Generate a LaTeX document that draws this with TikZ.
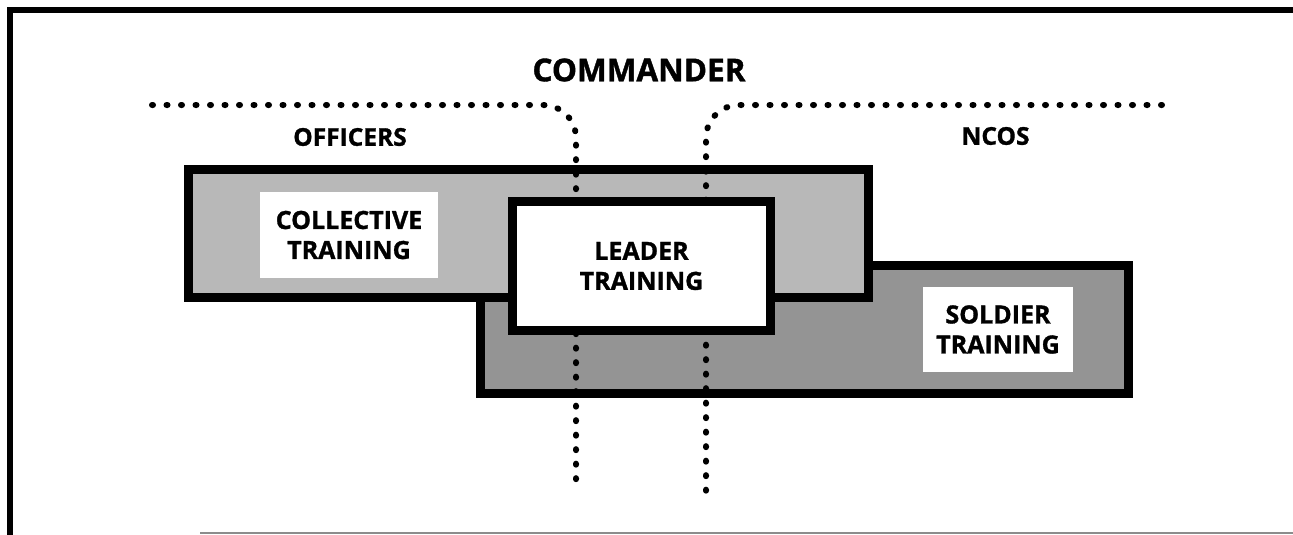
\documentclass[tikz,border=0pt]{standalone}
\usepackage{fontspec}
\setmainfont{Open Sans}[BoldFeatures={FakeBold=1.2}]
\begin{document}
\begin{tikzpicture}[x=1pt,y=-1pt,
  frameline/.style={line width=6pt},
  trainbox/.style={draw, line width=9pt, rectangle, inner sep=0pt, outer sep=0pt},
  labelbox/.style={fill=white, rectangle, inner sep=0pt, outer sep=0pt},
  lbl/.style={font=\bfseries\fontsize{25}{30}\selectfont, align=center, inner sep=0pt},
  grp/.style={font=\bfseries\fontsize{24.5}{29}\selectfont, inner sep=0pt},
  divider/.style={line width=6pt, line cap=round, dash pattern=on 1pt off 13.5pt, rounded corners=33pt}
]
\useasboundingbox (0,0) rectangle (1293,535);
% frame
\draw[frameline] (10,535) -- (10,10) -- (1293,10);
\draw[black!45, line width=1.5pt] (200,533) -- (1293,533);
% boxes
\node[trainbox, fill=black!42, minimum width=648pt, minimum height=128pt] (soldier) at (804.5,329.5) {};
\node[trainbox, fill=black!28, minimum width=680pt, minimum height=128pt] (collective) at (528.5,233.5) {};
\node[labelbox, minimum width=178pt, minimum height=86pt] (collab) at (349,235) {};
\node[lbl] (coltxt) at (collab) {COLLECTIVE\\TRAINING};
\node[labelbox, minimum width=150pt, minimum height=85pt] (solab) at (998,329.5) {};
\node[lbl] (soltxt) at (solab) {SOLDIER\\TRAINING};
% dividers
\coordinate (dl0) at (152,105);
\coordinate (dl1) at (576,105);
\coordinate (dl2) at (576,492);
\coordinate (dr0) at (1162,105);
\coordinate (dr1) at (706,105);
\coordinate (dr2) at (706,492);
\draw[divider] (dl0) -- (dl1) -- (dl2);
\draw[divider] (dr0) -- (dr1) -- (dr2);
% leader box on top
\node[trainbox, fill=white, minimum width=258pt, minimum height=129pt] (leader) at (641.5,266) {};
\node[lbl] (leadtxt) at (leader) {LEADER\\TRAINING};
% headings
\node[font=\bfseries\fontsize{31.5}{36}\selectfont, inner sep=0pt] (commander) at (639,70) {COMMANDER};
\node[grp] (officers) at (350,137) {OFFICERS};
\node[grp] (ncos) at (995.5,136) {NCOS};
\end{tikzpicture}
\end{document}
